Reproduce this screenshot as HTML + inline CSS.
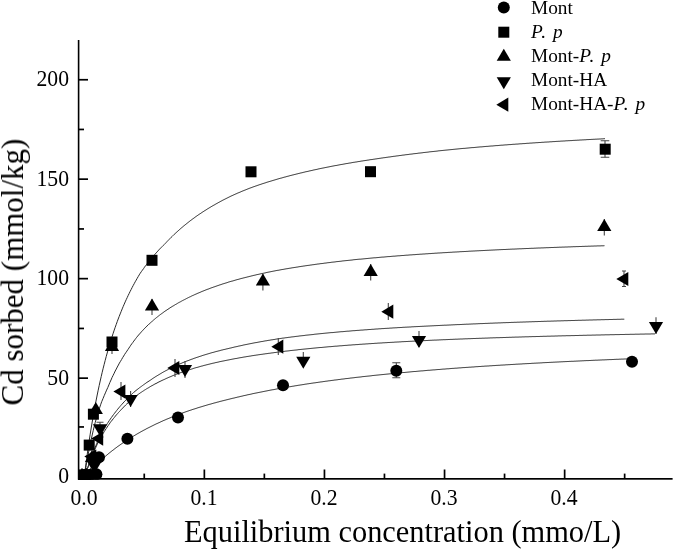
<!DOCTYPE html>
<html><head><meta charset="utf-8"><title>Cd sorption isotherms</title>
<style>
html,body{margin:0;padding:0;background:#fff;}
body{width:675px;height:550px;position:relative;overflow:hidden;font-family:"Liberation Serif",serif;color:#000;}
.t{position:absolute;white-space:nowrap;line-height:1;will-change:transform;}
.yl{font-size:21.7px;width:60px;text-align:right;left:9.4px;transform:translateY(0.9px) scaleY(1.05);}
.xl{transform:translateY(0.6px) scaleY(1.05);font-size:21.7px;width:60px;text-align:center;}
.lg{font-size:19.3px;left:531.2px;}
.lg i{letter-spacing:1px;}
.ttl{font-size:30px;}
</style></head><body>
<svg width="675" height="550" viewBox="0 0 675 550" style="position:absolute;left:0;top:0">
<rect width="675" height="550" fill="#fff"/>
<defs><clipPath id="pc"><rect x="78" y="30" width="597" height="449.7"/></clipPath></defs>
<g clip-path="url(#pc)">
<polyline points="84.2,477.5 85.2,469.5 86.2,461.9 87.2,454.5 88.2,447.5 89.2,440.7 90.2,434.2 91.2,428.0 92.2,422.0 93.2,416.2 94.2,410.6 95.2,405.2 96.2,400.0 97.2,395.0 98.2,390.2 99.2,385.5 100.2,381.0 101.2,376.6 102.2,372.3 103.2,368.2 104.2,364.3 105.2,360.4 106.2,356.6 107.2,353.0 108.2,349.5 109.2,346.0 110.2,342.7 111.2,339.5 112.2,336.3 113.2,333.2 114.2,330.2 115.2,327.3 116.2,324.5 117.2,321.7 118.2,319.0 119.2,316.4 120.2,313.9 121.2,311.4 122.2,308.9 123.2,306.5 124.2,304.2 125.2,301.9 126.2,299.7 127.2,297.6 128.2,295.4 129.2,293.4 130.2,291.3 131.2,289.4 132.2,287.4 133.2,285.5 134.2,283.7 135.2,281.8 136.2,280.1 137.2,278.3 138.2,276.6 139.2,274.9 140.2,273.3 141.3,271.7 142.4,270.2 143.5,268.7 144.5,267.2 145.6,265.7 146.7,264.3 147.8,262.9 148.9,261.6 150.0,260.2 151.0,258.9 152.1,257.6 153.2,256.4 154.1,255.3 155.0,254.2 156.0,253.1 156.9,252.1 157.8,251.1 158.7,250.1 159.6,249.1 160.6,248.1 161.5,247.2 162.4,246.3 163.3,245.4 164.3,244.5 165.2,243.6 166.2,242.5 167.2,241.4 168.2,240.4 169.2,239.4 170.2,238.3 171.2,237.3 172.2,236.4 173.2,235.4 174.2,234.4 175.2,233.5 176.2,232.6 177.2,231.7 178.2,230.8 179.2,229.9 180.2,229.0 181.2,228.1 182.2,227.3 183.2,226.4 184.2,225.6 185.2,224.8 186.2,224.0 187.2,223.2 188.2,222.4 189.2,221.6 190.2,220.8 191.2,220.1 192.2,219.3 193.2,218.6 194.2,217.9 195.2,217.1 196.2,216.4 197.2,215.7 198.2,215.0 199.2,214.3 200.2,213.7 201.2,213.0 202.2,212.3 203.2,211.7 204.2,211.0 205.2,210.4 206.2,209.8 207.2,209.1 208.2,208.5 209.2,207.9 210.2,207.3 211.2,206.7 212.2,206.1 213.2,205.5 214.2,205.0 215.2,204.4 216.2,203.8 217.2,203.3 218.2,202.7 219.2,202.2 220.2,201.6 221.2,201.1 222.2,200.5 223.2,200.0 224.2,199.5 225.2,199.0 226.2,198.5 227.2,198.0 228.2,197.5 229.2,197.0 230.2,196.5 231.2,196.0 232.2,195.6 233.2,195.1 234.2,194.7 235.2,194.2 236.2,193.8 237.2,193.3 238.2,192.9 239.2,192.5 240.2,192.1 241.2,191.6 242.2,191.2 243.2,190.8 244.2,190.4 245.2,190.0 246.2,189.6 247.2,189.2 248.2,188.8 249.2,188.4 250.2,188.0 251.2,187.7 252.2,187.3 253.2,186.9 254.2,186.6 255.2,186.2 256.2,185.9 257.2,185.5 258.2,185.2 259.2,184.8 260.2,184.5 261.2,184.2 262.2,183.8 263.2,183.5 264.2,183.2 265.2,182.9 266.2,182.5 267.2,182.2 268.2,181.9 269.2,181.6 270.2,181.3 271.2,181.0 272.2,180.7 273.2,180.4 274.2,180.1 275.2,179.8 276.2,179.5 277.2,179.2 278.2,178.9 279.2,178.6 280.2,178.3 281.2,178.1 282.2,177.8 283.2,177.5 284.2,177.2 285.2,177.0 286.2,176.7 287.2,176.4 288.2,176.2 289.2,175.9 290.2,175.6 291.2,175.4 292.2,175.1 293.2,174.9 294.2,174.6 295.2,174.4 296.2,174.1 297.2,173.9 298.2,173.6 299.2,173.4 300.2,173.1 301.2,172.9 302.2,172.7 303.2,172.4 304.2,172.2 305.2,171.9 306.2,171.7 307.2,171.5 308.2,171.3 309.2,171.0 310.2,170.8 311.2,170.6 312.2,170.4 313.2,170.1 314.2,169.9 315.2,169.7 316.2,169.5 317.2,169.3 318.2,169.0 319.2,168.8 320.2,168.6 321.2,168.4 322.2,168.2 323.2,168.0 324.2,167.8 325.2,167.6 326.2,167.4 327.2,167.2 328.2,167.0 329.2,166.8 330.2,166.6 331.2,166.4 332.2,166.2 333.2,166.0 334.2,165.8 335.2,165.6 336.2,165.5 337.2,165.3 338.2,165.1 339.2,164.9 340.2,164.7 341.2,164.5 342.2,164.4 343.2,164.2 344.2,164.0 345.2,163.8 346.2,163.6 347.2,163.5 348.2,163.3 349.2,163.1 350.2,163.0 351.2,162.8 352.2,162.6 353.2,162.4 354.2,162.3 355.2,162.1 356.2,162.0 357.2,161.8 358.2,161.6 359.2,161.5 360.2,161.3 361.2,161.1 362.2,161.0 363.2,160.8 364.2,160.7 365.2,160.5 366.2,160.4 367.2,160.2 368.2,160.1 369.2,159.9 370.2,159.7 371.2,159.6 372.2,159.5 373.2,159.3 374.2,159.2 375.2,159.0 376.2,158.9 377.2,158.7 378.2,158.6 379.2,158.4 380.2,158.3 381.2,158.1 382.2,158.0 383.2,157.8 384.2,157.7 385.2,157.6 386.2,157.4 387.2,157.3 388.2,157.1 389.2,157.0 390.2,156.9 391.2,156.7 392.2,156.6 393.2,156.4 394.2,156.3 395.2,156.2 396.2,156.0 397.2,155.9 398.2,155.8 399.2,155.6 400.2,155.5 401.2,155.4 402.2,155.2 403.2,155.1 404.2,155.0 405.2,154.8 406.2,154.7 407.2,154.6 408.2,154.5 409.2,154.3 410.2,154.2 411.2,154.1 412.2,154.0 413.2,153.8 414.2,153.7 415.2,153.6 416.2,153.5 417.2,153.4 418.2,153.2 419.2,153.1 420.2,153.0 421.2,152.9 422.2,152.8 423.2,152.6 424.2,152.5 425.2,152.4 426.2,152.3 427.2,152.2 428.2,152.1 429.2,151.9 430.2,151.8 431.2,151.7 432.2,151.6 433.2,151.5 434.2,151.4 435.2,151.3 436.2,151.2 437.2,151.1 438.2,150.9 439.2,150.8 440.2,150.7 441.2,150.6 442.2,150.5 443.2,150.4 444.2,150.3 445.2,150.2 446.2,150.1 447.2,150.0 448.2,149.9 449.2,149.8 450.2,149.7 451.2,149.6 452.2,149.5 453.2,149.4 454.2,149.3 455.2,149.2 456.2,149.1 457.2,149.0 458.2,148.9 459.2,148.8 460.2,148.7 461.2,148.6 462.2,148.5 463.2,148.4 464.2,148.4 465.2,148.3 466.2,148.2 467.2,148.1 468.2,148.0 469.2,147.9 470.2,147.8 471.2,147.7 472.2,147.6 473.2,147.6 474.2,147.5 475.2,147.4 476.2,147.3 477.2,147.2 478.2,147.1 479.2,147.0 480.2,146.9 481.2,146.9 482.2,146.8 483.2,146.7 484.2,146.6 485.2,146.5 486.2,146.4 487.2,146.4 488.2,146.3 489.2,146.2 490.2,146.1 491.2,146.0 492.2,146.0 493.2,145.9 494.2,145.8 495.2,145.7 496.2,145.6 497.2,145.6 498.2,145.5 499.2,145.4 500.2,145.3 501.2,145.2 502.2,145.2 503.2,145.1 504.2,145.0 505.2,144.9 506.2,144.9 507.2,144.8 508.2,144.7 509.2,144.6 510.2,144.6 511.2,144.5 512.2,144.4 513.2,144.3 514.2,144.3 515.2,144.2 516.2,144.1 517.2,144.1 518.2,144.0 519.2,143.9 520.2,143.8 521.2,143.8 522.2,143.7 523.2,143.6 524.2,143.6 525.2,143.5 526.2,143.4 527.2,143.3 528.2,143.3 529.2,143.2 530.2,143.1 531.2,143.1 532.2,143.0 533.2,142.9 534.2,142.9 535.2,142.8 536.2,142.7 537.2,142.7 538.2,142.6 539.2,142.5 540.2,142.5 541.2,142.4 542.2,142.3 543.2,142.3 544.2,142.2 545.2,142.1 546.2,142.1 547.2,142.0 548.2,142.0 549.2,141.9 550.2,141.8 551.2,141.8 552.2,141.7 553.2,141.6 554.2,141.6 555.2,141.5 556.2,141.4 557.2,141.4 558.2,141.3 559.2,141.3 560.2,141.2 561.2,141.1 562.2,141.1 563.2,141.0 564.2,141.0 565.2,140.9 566.2,140.8 567.2,140.8 568.2,140.7 569.2,140.7 570.2,140.6 571.2,140.6 572.2,140.5 573.2,140.4 574.2,140.4 575.2,140.3 576.2,140.3 577.2,140.2 578.2,140.2 579.2,140.1 580.2,140.0 581.2,140.0 582.2,139.9 583.2,139.9 584.2,139.8 585.2,139.8 586.2,139.7 587.2,139.6 588.2,139.6 589.2,139.5 590.2,139.5 591.2,139.4 592.2,139.4 593.2,139.3 594.2,139.3 595.2,139.2 596.2,139.2 597.2,139.1 598.2,139.1 599.2,139.0 600.2,139.0 601.2,138.9 602.2,138.9 603.2,138.8 604.2,138.7 605.0,138.7" fill="none" stroke="#2a2a2a" stroke-width="1"/>
<polyline points="84.2,477.5 85.2,471.3 86.2,465.3 87.2,459.6 88.2,454.3 89.2,449.1 90.2,444.2 91.2,439.5 92.2,435.0 93.2,430.7 94.2,426.5 95.2,422.5 96.3,418.7 97.4,415.1 98.5,411.5 99.5,408.1 100.6,404.8 101.7,401.7 103.0,398.6 104.2,395.7 105.4,392.9 106.6,390.1 107.8,387.5 108.9,384.9 109.9,382.4 111.0,380.0 112.0,377.6 113.1,375.4 114.2,373.2 115.2,371.0 116.3,369.0 117.3,367.0 118.4,365.0 119.4,363.1 120.5,361.3 121.6,359.5 122.6,357.7 123.7,356.0 124.7,354.3 125.8,352.7 126.9,351.1 127.9,349.6 128.9,348.1 129.9,346.6 130.8,345.2 131.8,343.8 132.8,342.5 133.8,341.1 134.8,339.8 135.7,338.6 136.7,337.3 137.7,336.1 138.6,335.0 139.6,333.9 140.5,332.9 141.4,331.8 142.4,330.8 143.3,329.8 144.2,328.8 145.2,327.9 146.1,326.9 147.0,326.0 148.0,325.1 148.9,324.2 149.8,323.4 150.8,322.5 151.7,321.7 152.7,320.9 153.6,320.0 154.6,319.2 155.5,318.4 156.5,317.6 157.5,316.8 158.4,316.1 159.4,315.3 160.3,314.6 161.3,313.9 162.3,313.2 163.2,312.5 164.2,311.8 165.1,311.1 166.1,310.5 167.1,309.8 168.0,309.2 169.0,308.6 169.9,307.9 170.9,307.3 171.9,306.7 172.8,306.1 173.8,305.6 174.7,305.0 175.7,304.4 176.7,303.9 177.6,303.3 178.6,302.7 179.6,302.2 180.6,301.7 181.6,301.1 182.5,300.6 183.5,300.1 184.5,299.6 185.5,299.1 186.4,298.6 187.4,298.1 188.4,297.6 189.4,297.1 190.4,296.7 191.3,296.2 192.3,295.7 193.3,295.3 194.3,294.8 195.2,294.4 196.2,294.0 197.2,293.5 198.2,293.1 199.2,292.7 200.2,292.3 201.2,291.8 202.2,291.4 203.2,291.0 204.2,290.6 205.2,290.2 206.2,289.8 207.2,289.4 208.2,289.1 209.2,288.7 210.2,288.3 211.2,287.9 212.2,287.6 213.2,287.2 214.2,286.9 215.2,286.5 216.2,286.2 217.2,285.8 218.2,285.5 219.2,285.1 220.2,284.8 221.2,284.5 222.2,284.1 223.2,283.8 224.2,283.5 225.2,283.2 226.2,282.9 227.2,282.6 228.2,282.2 229.2,281.9 230.2,281.6 231.2,281.3 232.2,281.1 233.2,280.8 234.2,280.5 235.2,280.2 236.2,279.9 237.2,279.6 238.2,279.4 239.2,279.1 240.2,278.8 241.2,278.5 242.2,278.3 243.2,278.0 244.2,277.8 245.2,277.5 246.2,277.3 247.2,277.0 248.2,276.8 249.2,276.5 250.2,276.3 251.2,276.0 252.2,275.8 253.2,275.5 254.2,275.3 255.2,275.1 256.2,274.8 257.2,274.6 258.2,274.4 259.2,274.2 260.2,273.9 261.2,273.7 262.2,273.5 263.2,273.3 264.2,273.1 265.2,272.9 266.2,272.6 267.2,272.4 268.2,272.2 269.2,272.0 270.2,271.8 271.2,271.6 272.2,271.4 273.2,271.2 274.2,271.0 275.2,270.8 276.2,270.6 277.2,270.4 278.2,270.3 279.2,270.1 280.2,269.9 281.2,269.7 282.2,269.5 283.2,269.4 284.2,269.2 285.2,269.0 286.2,268.8 287.2,268.7 288.2,268.5 289.2,268.3 290.2,268.2 291.2,268.0 292.2,267.8 293.2,267.7 294.2,267.5 295.2,267.4 296.2,267.2 297.2,267.1 298.2,266.9 299.2,266.7 300.2,266.6 301.2,266.4 302.2,266.3 303.2,266.1 304.2,266.0 305.2,265.8 306.2,265.7 307.2,265.5 308.2,265.4 309.2,265.3 310.2,265.1 311.2,265.0 312.2,264.8 313.2,264.7 314.2,264.6 315.2,264.4 316.2,264.3 317.2,264.1 318.2,264.0 319.2,263.9 320.2,263.7 321.2,263.6 322.2,263.5 323.2,263.4 324.2,263.2 325.2,263.1 326.2,263.0 327.2,262.8 328.2,262.7 329.2,262.6 330.2,262.5 331.2,262.3 332.2,262.2 333.2,262.1 334.2,262.0 335.2,261.9 336.2,261.7 337.2,261.6 338.2,261.5 339.2,261.4 340.2,261.3 341.2,261.2 342.2,261.0 343.2,260.9 344.2,260.8 345.2,260.7 346.2,260.6 347.2,260.5 348.2,260.4 349.2,260.3 350.2,260.2 351.2,260.1 352.2,260.0 353.2,259.8 354.2,259.7 355.2,259.6 356.2,259.5 357.2,259.4 358.2,259.3 359.2,259.2 360.2,259.2 361.2,259.1 362.2,259.0 363.2,258.9 364.2,258.8 365.2,258.7 366.2,258.6 367.2,258.5 368.2,258.4 369.2,258.3 370.2,258.2 371.2,258.1 372.2,258.0 373.2,257.9 374.2,257.8 375.2,257.8 376.2,257.7 377.2,257.6 378.2,257.5 379.2,257.4 380.2,257.3 381.2,257.2 382.2,257.1 383.2,257.1 384.2,257.0 385.2,256.9 386.2,256.8 387.2,256.7 388.2,256.6 389.2,256.6 390.2,256.5 391.2,256.4 392.2,256.3 393.2,256.2 394.2,256.2 395.2,256.1 396.2,256.0 397.2,255.9 398.2,255.8 399.2,255.8 400.2,255.7 401.2,255.6 402.2,255.5 403.2,255.5 404.2,255.4 405.2,255.3 406.2,255.2 407.2,255.2 408.2,255.1 409.2,255.0 410.2,254.9 411.2,254.9 412.2,254.8 413.2,254.7 414.2,254.7 415.2,254.6 416.2,254.5 417.2,254.4 418.2,254.4 419.2,254.3 420.2,254.2 421.2,254.2 422.2,254.1 423.2,254.0 424.2,254.0 425.2,253.9 426.2,253.8 427.2,253.8 428.2,253.7 429.2,253.6 430.2,253.6 431.2,253.5 432.2,253.4 433.2,253.4 434.2,253.3 435.2,253.2 436.2,253.2 437.2,253.1 438.2,253.0 439.2,253.0 440.2,252.9 441.2,252.9 442.2,252.8 443.2,252.7 444.2,252.7 445.2,252.6 446.2,252.6 447.2,252.5 448.2,252.4 449.2,252.4 450.2,252.3 451.2,252.3 452.2,252.2 453.2,252.1 454.2,252.1 455.2,252.0 456.2,252.0 457.2,251.9 458.2,251.9 459.2,251.8 460.2,251.7 461.2,251.7 462.2,251.6 463.2,251.6 464.2,251.5 465.2,251.5 466.2,251.4 467.2,251.4 468.2,251.3 469.2,251.2 470.2,251.2 471.2,251.1 472.2,251.1 473.2,251.0 474.2,251.0 475.2,250.9 476.2,250.9 477.2,250.8 478.2,250.8 479.2,250.7 480.2,250.7 481.2,250.6 482.2,250.6 483.2,250.5 484.2,250.5 485.2,250.4 486.2,250.4 487.2,250.3 488.2,250.3 489.2,250.2 490.2,250.2 491.2,250.1 492.2,250.1 493.2,250.0 494.2,250.0 495.2,249.9 496.2,249.9 497.2,249.8 498.2,249.8 499.2,249.7 500.2,249.7 501.2,249.6 502.2,249.6 503.2,249.5 504.2,249.5 505.2,249.5 506.2,249.4 507.2,249.4 508.2,249.3 509.2,249.3 510.2,249.2 511.2,249.2 512.2,249.1 513.2,249.1 514.2,249.1 515.2,249.0 516.2,249.0 517.2,248.9 518.2,248.9 519.2,248.8 520.2,248.8 521.2,248.8 522.2,248.7 523.2,248.7 524.2,248.6 525.2,248.6 526.2,248.5 527.2,248.5 528.2,248.5 529.2,248.4 530.2,248.4 531.2,248.3 532.2,248.3 533.2,248.3 534.2,248.2 535.2,248.2 536.2,248.1 537.2,248.1 538.2,248.0 539.2,248.0 540.2,248.0 541.2,247.9 542.2,247.9 543.2,247.9 544.2,247.8 545.2,247.8 546.2,247.7 547.2,247.7 548.2,247.7 549.2,247.6 550.2,247.6 551.2,247.5 552.2,247.5 553.2,247.5 554.2,247.4 555.2,247.4 556.2,247.4 557.2,247.3 558.2,247.3 559.2,247.2 560.2,247.2 561.2,247.2 562.2,247.1 563.2,247.1 564.2,247.1 565.2,247.0 566.2,247.0 567.2,247.0 568.2,246.9 569.2,246.9 570.2,246.9 571.2,246.8 572.2,246.8 573.2,246.7 574.2,246.7 575.2,246.7 576.2,246.6 577.2,246.6 578.2,246.6 579.2,246.5 580.2,246.5 581.2,246.5 582.2,246.4 583.2,246.4 584.2,246.4 585.2,246.3 586.2,246.3 587.2,246.3 588.2,246.2 589.2,246.2 590.2,246.2 591.2,246.1 592.2,246.1 593.2,246.1 594.2,246.0 595.2,246.0 596.2,246.0 597.2,245.9 598.2,245.9 599.2,245.9 600.2,245.9 601.2,245.8 602.2,245.8 603.2,245.8 604.2,245.7 604.5,245.7" fill="none" stroke="#2a2a2a" stroke-width="1"/>
<polyline points="84.2,477.5 85.0,475.6 85.8,473.4 86.6,471.0 87.4,468.6 88.2,466.2 89.0,463.9 89.9,461.5 90.7,459.1 91.5,456.8 92.4,454.5 93.2,452.3 94.1,450.1 94.9,447.9 95.8,445.8 96.6,443.7 97.5,441.7 98.5,439.7 99.5,437.8 100.4,435.9 101.4,434.0 102.4,432.2 103.4,430.4 104.4,428.6 105.4,426.9 106.3,425.3 107.3,423.6 108.3,422.1 109.3,420.5 110.4,419.0 111.4,417.5 112.5,416.0 113.5,414.6 114.6,413.2 115.6,411.9 116.7,410.5 117.7,409.2 118.8,407.9 119.8,406.7 120.9,405.4 122.0,404.2 123.1,403.0 124.1,401.9 125.2,400.7 126.3,399.6 127.4,398.5 128.4,397.4 129.5,396.4 130.6,395.3 131.7,394.3 132.8,393.3 133.8,392.3 134.9,391.4 136.0,390.5 137.1,389.6 138.2,388.8 139.3,387.9 140.4,387.1 141.5,386.3 142.6,385.5 143.7,384.7 144.8,383.9 145.8,383.2 146.9,382.4 148.0,381.7 149.1,381.0 150.2,380.3 151.2,379.6 152.2,378.9 153.2,378.2 154.2,377.6 155.2,376.9 156.2,376.3 157.2,375.7 158.2,375.1 159.2,374.5 160.2,373.9 161.2,373.3 162.2,372.7 163.2,372.1 164.2,371.6 165.2,371.0 166.2,370.5 167.2,370.0 168.2,369.4 169.2,368.9 170.2,368.4 171.2,367.9 172.2,367.4 173.2,367.0 174.2,366.5 175.2,366.0 176.2,365.6 177.2,365.1 178.2,364.7 179.2,364.2 180.2,363.8 181.2,363.4 182.2,362.9 183.2,362.5 184.2,362.1 185.2,361.7 186.2,361.3 187.2,360.9 188.2,360.6 189.2,360.2 190.2,359.8 191.2,359.4 192.2,359.1 193.2,358.7 194.2,358.3 195.2,358.0 196.2,357.6 197.2,357.3 198.2,357.0 199.2,356.6 200.2,356.3 201.2,356.0 202.2,355.6 203.2,355.3 204.2,355.0 205.2,354.7 206.2,354.4 207.2,354.1 208.2,353.8 209.2,353.5 210.2,353.2 211.2,352.9 212.2,352.6 213.2,352.4 214.2,352.1 215.2,351.8 216.2,351.5 217.2,351.3 218.2,351.0 219.2,350.8 220.2,350.5 221.2,350.2 222.2,350.0 223.2,349.7 224.2,349.5 225.2,349.3 226.2,349.0 227.2,348.8 228.2,348.6 229.2,348.3 230.2,348.1 231.2,347.9 232.2,347.6 233.2,347.4 234.2,347.1 235.2,346.9 236.2,346.7 237.2,346.5 238.2,346.2 239.2,346.0 240.2,345.8 241.2,345.6 242.2,345.4 243.2,345.1 244.2,344.9 245.2,344.7 246.2,344.5 247.2,344.3 248.2,344.1 249.2,343.9 250.2,343.7 251.2,343.5 252.2,343.3 253.2,343.1 254.2,342.9 255.2,342.7 256.2,342.6 257.2,342.4 258.2,342.2 259.2,342.0 260.2,341.8 261.2,341.6 262.2,341.5 263.2,341.3 264.2,341.1 265.2,340.9 266.2,340.8 267.2,340.6 268.2,340.4 269.2,340.3 270.2,340.1 271.2,339.9 272.2,339.8 273.2,339.6 274.2,339.5 275.2,339.3 276.2,339.1 277.2,339.0 278.2,338.8 279.2,338.7 280.2,338.5 281.2,338.4 282.2,338.2 283.2,338.1 284.2,338.0 285.2,337.8 286.2,337.7 287.2,337.6 288.2,337.4 289.2,337.3 290.2,337.2 291.2,337.0 292.2,336.9 293.2,336.8 294.2,336.7 295.2,336.5 296.2,336.4 297.2,336.3 298.2,336.2 299.2,336.0 300.2,335.9 301.2,335.8 302.2,335.7 303.2,335.6 304.2,335.5 305.2,335.3 306.2,335.2 307.2,335.1 308.2,335.0 309.2,334.9 310.2,334.8 311.2,334.7 312.2,334.6 313.2,334.5 314.2,334.3 315.2,334.2 316.2,334.1 317.2,334.0 318.2,333.9 319.2,333.8 320.2,333.7 321.2,333.6 322.2,333.5 323.2,333.4 324.2,333.3 325.2,333.2 326.2,333.1 327.2,333.0 328.2,332.9 329.2,332.8 330.2,332.7 331.2,332.6 332.2,332.6 333.2,332.5 334.2,332.4 335.2,332.3 336.2,332.2 337.2,332.1 338.2,332.0 339.2,331.9 340.2,331.8 341.2,331.7 342.2,331.7 343.2,331.6 344.2,331.5 345.2,331.4 346.2,331.3 347.2,331.2 348.2,331.2 349.2,331.1 350.2,331.0 351.2,330.9 352.2,330.8 353.2,330.7 354.2,330.7 355.2,330.6 356.2,330.5 357.2,330.4 358.2,330.4 359.2,330.3 360.2,330.2 361.2,330.1 362.2,330.1 363.2,330.0 364.2,329.9 365.2,329.8 366.2,329.8 367.2,329.7 368.2,329.6 369.2,329.5 370.2,329.5 371.2,329.4 372.2,329.3 373.2,329.3 374.2,329.2 375.2,329.1 376.2,329.0 377.2,329.0 378.2,328.9 379.2,328.8 380.2,328.8 381.2,328.7 382.2,328.6 383.2,328.6 384.2,328.5 385.2,328.4 386.2,328.4 387.2,328.3 388.2,328.3 389.2,328.2 390.2,328.1 391.2,328.1 392.2,328.0 393.2,327.9 394.2,327.9 395.2,327.8 396.2,327.8 397.2,327.7 398.2,327.6 399.2,327.6 400.2,327.5 401.2,327.5 402.2,327.4 403.2,327.3 404.2,327.3 405.2,327.2 406.2,327.2 407.2,327.1 408.2,327.1 409.2,327.0 410.2,327.0 411.2,326.9 412.2,326.8 413.2,326.8 414.2,326.7 415.2,326.7 416.2,326.6 417.2,326.6 418.2,326.5 419.2,326.5 420.2,326.4 421.2,326.4 422.2,326.3 423.2,326.3 424.2,326.2 425.2,326.2 426.2,326.1 427.2,326.1 428.2,326.0 429.2,326.0 430.2,325.9 431.2,325.9 432.2,325.8 433.2,325.8 434.2,325.7 435.2,325.7 436.2,325.6 437.2,325.6 438.2,325.5 439.2,325.5 440.2,325.4 441.2,325.4 442.2,325.3 443.2,325.3 444.2,325.2 445.2,325.2 446.2,325.2 447.2,325.1 448.2,325.1 449.2,325.0 450.2,325.0 451.2,324.9 452.2,324.9 453.2,324.8 454.2,324.8 455.2,324.7 456.2,324.7 457.2,324.6 458.2,324.6 459.2,324.6 460.2,324.5 461.2,324.5 462.2,324.4 463.2,324.4 464.2,324.3 465.2,324.3 466.2,324.2 467.2,324.2 468.2,324.2 469.2,324.1 470.2,324.1 471.2,324.0 472.2,324.0 473.2,323.9 474.2,323.9 475.2,323.9 476.2,323.8 477.2,323.8 478.2,323.7 479.2,323.7 480.2,323.6 481.2,323.6 482.2,323.6 483.2,323.5 484.2,323.5 485.2,323.4 486.2,323.4 487.2,323.4 488.2,323.3 489.2,323.3 490.2,323.2 491.2,323.2 492.2,323.2 493.2,323.1 494.2,323.1 495.2,323.0 496.2,323.0 497.2,323.0 498.2,322.9 499.2,322.9 500.2,322.9 501.2,322.8 502.2,322.8 503.2,322.7 504.2,322.7 505.2,322.7 506.2,322.6 507.2,322.6 508.2,322.6 509.2,322.5 510.2,322.5 511.2,322.4 512.2,322.4 513.2,322.4 514.2,322.3 515.2,322.3 516.2,322.3 517.2,322.2 518.2,322.2 519.2,322.2 520.2,322.1 521.2,322.1 522.2,322.1 523.2,322.0 524.2,322.0 525.2,322.0 526.2,321.9 527.2,321.9 528.2,321.9 529.2,321.8 530.2,321.8 531.2,321.8 532.2,321.7 533.2,321.7 534.2,321.7 535.2,321.6 536.2,321.6 537.2,321.6 538.2,321.5 539.2,321.5 540.2,321.5 541.2,321.4 542.2,321.4 543.2,321.4 544.2,321.3 545.2,321.3 546.2,321.3 547.2,321.2 548.2,321.2 549.2,321.2 550.2,321.2 551.2,321.1 552.2,321.1 553.2,321.1 554.2,321.0 555.2,321.0 556.2,321.0 557.2,320.9 558.2,320.9 559.2,320.9 560.2,320.9 561.2,320.8 562.2,320.8 563.2,320.8 564.2,320.7 565.2,320.7 566.2,320.7 567.2,320.7 568.2,320.6 569.2,320.6 570.2,320.6 571.2,320.5 572.2,320.5 573.2,320.5 574.2,320.5 575.2,320.4 576.2,320.4 577.2,320.4 578.2,320.3 579.2,320.3 580.2,320.3 581.2,320.3 582.2,320.2 583.2,320.2 584.2,320.2 585.2,320.2 586.2,320.1 587.2,320.1 588.2,320.1 589.2,320.0 590.2,320.0 591.2,320.0 592.2,320.0 593.2,319.9 594.2,319.9 595.2,319.9 596.2,319.9 597.2,319.8 598.2,319.8 599.2,319.8 600.2,319.8 601.2,319.7 602.2,319.7 603.2,319.7 604.2,319.7 605.2,319.6 606.2,319.6 607.2,319.6 608.2,319.6 609.2,319.5 610.2,319.5 611.2,319.5 612.2,319.5 613.2,319.4 614.2,319.4 615.2,319.4 616.2,319.4 617.2,319.3 618.2,319.3 619.2,319.3 620.2,319.3 621.2,319.2 622.2,319.2 623.2,319.2 624.2,319.2 624.3,319.2" fill="none" stroke="#2a2a2a" stroke-width="1"/>
<polyline points="84.2,477.5 85.0,475.4 85.9,473.1 86.7,470.7 87.6,468.3 88.4,465.9 89.3,463.5 90.1,461.2 91.0,458.9 91.9,456.6 92.8,454.4 93.7,452.3 94.6,450.2 95.5,448.1 96.4,446.1 97.3,444.1 98.2,442.2 99.2,440.4 100.2,438.6 101.2,436.8 102.2,435.1 103.2,433.4 104.2,431.7 105.2,430.1 106.2,428.6 107.2,427.0 108.2,425.6 109.2,424.1 110.2,422.7 111.2,421.3 112.3,420.0 113.3,418.7 114.4,417.4 115.4,416.1 116.4,414.9 117.5,413.7 118.5,412.5 119.6,411.4 120.6,410.3 121.6,409.2 122.7,408.1 123.7,407.0 124.7,406.0 125.7,405.0 126.8,404.0 127.8,403.0 128.8,402.0 129.9,401.1 130.9,400.2 131.9,399.3 132.9,398.4 134.0,397.6 135.0,396.7 136.1,396.0 137.1,395.2 138.2,394.4 139.2,393.7 140.3,392.9 141.4,392.2 142.4,391.5 143.5,390.8 144.5,390.1 145.6,389.5 146.6,388.8 147.7,388.2 148.8,387.6 149.8,386.9 150.8,386.3 151.9,385.7 152.9,385.2 153.9,384.6 154.9,384.0 156.0,383.5 157.0,383.0 158.0,382.4 159.0,381.9 160.1,381.4 161.1,380.9 162.1,380.4 163.2,379.9 164.2,379.5 165.2,379.0 166.2,378.5 167.2,378.1 168.2,377.6 169.2,377.2 170.2,376.8 171.2,376.4 172.2,375.9 173.2,375.5 174.2,375.1 175.2,374.7 176.2,374.3 177.2,374.0 178.2,373.6 179.2,373.2 180.2,372.8 181.2,372.5 182.2,372.1 183.2,371.8 184.2,371.4 185.2,371.1 186.2,370.8 187.2,370.4 188.2,370.1 189.2,369.8 190.2,369.5 191.2,369.2 192.2,368.9 193.2,368.5 194.2,368.2 195.2,367.9 196.2,367.6 197.2,367.4 198.2,367.1 199.2,366.8 200.2,366.5 201.2,366.2 202.2,366.0 203.2,365.7 204.2,365.4 205.2,365.2 206.2,364.9 207.2,364.7 208.2,364.4 209.2,364.2 210.2,363.9 211.2,363.7 212.2,363.4 213.2,363.2 214.2,363.0 215.2,362.7 216.2,362.5 217.2,362.3 218.2,362.1 219.2,361.8 220.2,361.6 221.2,361.4 222.2,361.2 223.2,361.0 224.2,360.8 225.2,360.6 226.2,360.4 227.2,360.2 228.2,360.0 229.2,359.8 230.2,359.6 231.2,359.4 232.2,359.2 233.2,359.0 234.2,358.8 235.2,358.6 236.2,358.5 237.2,358.3 238.2,358.1 239.2,357.9 240.2,357.7 241.2,357.6 242.2,357.4 243.2,357.2 244.2,357.0 245.2,356.9 246.2,356.7 247.2,356.5 248.2,356.4 249.2,356.2 250.2,356.1 251.2,355.9 252.2,355.7 253.2,355.6 254.2,355.4 255.2,355.3 256.2,355.1 257.2,355.0 258.2,354.8 259.2,354.7 260.2,354.5 261.2,354.4 262.2,354.3 263.2,354.1 264.2,354.0 265.2,353.8 266.2,353.7 267.2,353.6 268.2,353.4 269.2,353.3 270.2,353.2 271.2,353.0 272.2,352.9 273.2,352.8 274.2,352.6 275.2,352.5 276.2,352.4 277.2,352.2 278.2,352.1 279.2,352.0 280.2,351.9 281.2,351.7 282.2,351.6 283.2,351.5 284.2,351.4 285.2,351.2 286.2,351.1 287.2,351.0 288.2,350.9 289.2,350.8 290.2,350.6 291.2,350.5 292.2,350.4 293.2,350.3 294.2,350.2 295.2,350.1 296.2,350.0 297.2,349.9 298.2,349.7 299.2,349.6 300.2,349.5 301.2,349.4 302.2,349.3 303.2,349.2 304.2,349.1 305.2,349.0 306.2,348.9 307.2,348.8 308.2,348.7 309.2,348.6 310.2,348.5 311.2,348.4 312.2,348.3 313.2,348.2 314.2,348.1 315.2,348.0 316.2,347.9 317.2,347.8 318.2,347.7 319.2,347.6 320.2,347.5 321.2,347.5 322.2,347.4 323.2,347.3 324.2,347.2 325.2,347.1 326.2,347.0 327.2,346.9 328.2,346.8 329.2,346.7 330.2,346.7 331.2,346.6 332.2,346.5 333.2,346.4 334.2,346.3 335.2,346.2 336.2,346.2 337.2,346.1 338.2,346.0 339.2,345.9 340.2,345.8 341.2,345.8 342.2,345.7 343.2,345.6 344.2,345.5 345.2,345.4 346.2,345.4 347.2,345.3 348.2,345.2 349.2,345.1 350.2,345.1 351.2,345.0 352.2,344.9 353.2,344.8 354.2,344.8 355.2,344.7 356.2,344.6 357.2,344.6 358.2,344.5 359.2,344.4 360.2,344.3 361.2,344.3 362.2,344.2 363.2,344.1 364.2,344.1 365.2,344.0 366.2,343.9 367.2,343.9 368.2,343.8 369.2,343.7 370.2,343.7 371.2,343.6 372.2,343.5 373.2,343.5 374.2,343.4 375.2,343.3 376.2,343.3 377.2,343.2 378.2,343.1 379.2,343.1 380.2,343.0 381.2,343.0 382.2,342.9 383.2,342.8 384.2,342.8 385.2,342.7 386.2,342.7 387.2,342.6 388.2,342.5 389.2,342.5 390.2,342.4 391.2,342.4 392.2,342.3 393.2,342.3 394.2,342.2 395.2,342.1 396.2,342.1 397.2,342.0 398.2,342.0 399.2,341.9 400.2,341.9 401.2,341.8 402.2,341.7 403.2,341.7 404.2,341.6 405.2,341.6 406.2,341.5 407.2,341.5 408.2,341.4 409.2,341.4 410.2,341.3 411.2,341.3 412.2,341.2 413.2,341.2 414.2,341.1 415.2,341.1 416.2,341.0 417.2,341.0 418.2,340.9 419.2,340.9 420.2,340.8 421.2,340.8 422.2,340.7 423.2,340.7 424.2,340.6 425.2,340.6 426.2,340.5 427.2,340.5 428.2,340.4 429.2,340.4 430.2,340.3 431.2,340.3 432.2,340.2 433.2,340.2 434.2,340.1 435.2,340.1 436.2,340.1 437.2,340.0 438.2,340.0 439.2,339.9 440.2,339.9 441.2,339.8 442.2,339.8 443.2,339.7 444.2,339.7 445.2,339.7 446.2,339.6 447.2,339.6 448.2,339.5 449.2,339.5 450.2,339.4 451.2,339.4 452.2,339.4 453.2,339.3 454.2,339.3 455.2,339.2 456.2,339.2 457.2,339.2 458.2,339.1 459.2,339.1 460.2,339.0 461.2,339.0 462.2,339.0 463.2,338.9 464.2,338.9 465.2,338.8 466.2,338.8 467.2,338.8 468.2,338.7 469.2,338.7 470.2,338.7 471.2,338.6 472.2,338.6 473.2,338.5 474.2,338.5 475.2,338.5 476.2,338.4 477.2,338.4 478.2,338.4 479.2,338.3 480.2,338.3 481.2,338.3 482.2,338.2 483.2,338.2 484.2,338.2 485.2,338.1 486.2,338.1 487.2,338.1 488.2,338.0 489.2,338.0 490.2,337.9 491.2,337.9 492.2,337.9 493.2,337.8 494.2,337.8 495.2,337.8 496.2,337.7 497.2,337.7 498.2,337.7 499.2,337.7 500.2,337.6 501.2,337.6 502.2,337.6 503.2,337.5 504.2,337.5 505.2,337.5 506.2,337.4 507.2,337.4 508.2,337.4 509.2,337.3 510.2,337.3 511.2,337.3 512.2,337.2 513.2,337.2 514.2,337.2 515.2,337.1 516.2,337.1 517.2,337.1 518.2,337.1 519.2,337.0 520.2,337.0 521.2,337.0 522.2,336.9 523.2,336.9 524.2,336.9 525.2,336.8 526.2,336.8 527.2,336.8 528.2,336.8 529.2,336.7 530.2,336.7 531.2,336.7 532.2,336.6 533.2,336.6 534.2,336.6 535.2,336.6 536.2,336.5 537.2,336.5 538.2,336.5 539.2,336.5 540.2,336.4 541.2,336.4 542.2,336.4 543.2,336.3 544.2,336.3 545.2,336.3 546.2,336.3 547.2,336.2 548.2,336.2 549.2,336.2 550.2,336.2 551.2,336.1 552.2,336.1 553.2,336.1 554.2,336.1 555.2,336.0 556.2,336.0 557.2,336.0 558.2,335.9 559.2,335.9 560.2,335.9 561.2,335.9 562.2,335.8 563.2,335.8 564.2,335.8 565.2,335.8 566.2,335.7 567.2,335.7 568.2,335.7 569.2,335.7 570.2,335.7 571.2,335.6 572.2,335.6 573.2,335.6 574.2,335.6 575.2,335.5 576.2,335.5 577.2,335.5 578.2,335.5 579.2,335.4 580.2,335.4 581.2,335.4 582.2,335.4 583.2,335.3 584.2,335.3 585.2,335.3 586.2,335.3 587.2,335.2 588.2,335.2 589.2,335.2 590.2,335.2 591.2,335.2 592.2,335.1 593.2,335.1 594.2,335.1 595.2,335.1 596.2,335.0 597.2,335.0 598.2,335.0 599.2,335.0 600.2,335.0 601.2,334.9 602.2,334.9 603.2,334.9 604.2,334.9 605.2,334.8 606.2,334.8 607.2,334.8 608.2,334.8 609.2,334.8 610.2,334.7 611.2,334.7 612.2,334.7 613.2,334.7 614.2,334.7 615.2,334.6 616.2,334.6 617.2,334.6 618.2,334.6 619.2,334.6 620.2,334.5 621.2,334.5 622.2,334.5 623.2,334.5 624.2,334.5 625.2,334.4 626.2,334.4 627.2,334.4 628.2,334.4 629.2,334.4 630.2,334.3 631.2,334.3 632.2,334.3 633.2,334.3 634.2,334.3 635.2,334.2 636.2,334.2 637.2,334.2 638.2,334.2 639.2,334.2 640.2,334.1 641.2,334.1 642.2,334.1 643.2,334.1 644.2,334.1 645.2,334.0 646.2,334.0 647.2,334.0 648.2,334.0 649.2,334.0 650.2,334.0 651.2,333.9 652.2,333.9 653.2,333.9 654.2,333.9 655.0,333.9" fill="none" stroke="#2a2a2a" stroke-width="1"/>
<polyline points="84.2,477.5 85.2,476.3 86.2,475.2 87.2,474.1 88.2,473.0 89.2,471.9 90.2,470.8 91.2,469.8 92.2,468.7 93.2,467.7 94.2,466.7 95.2,465.7 96.2,464.7 97.2,463.7 98.2,462.8 99.2,461.8 100.2,460.9 101.2,460.0 102.2,459.1 103.2,458.2 104.2,457.3 105.2,456.5 106.2,455.6 107.2,454.8 108.2,453.9 109.2,453.1 110.2,452.3 111.2,451.5 112.2,450.7 113.2,450.0 114.2,449.2 115.2,448.4 116.2,447.7 117.2,446.9 118.2,446.2 119.2,445.5 120.2,444.8 121.2,444.1 122.2,443.4 123.2,442.7 124.2,442.0 125.2,441.4 126.2,440.7 127.2,440.0 128.2,439.4 129.2,438.8 130.2,438.1 131.2,437.5 132.2,436.9 133.2,436.3 134.2,435.7 135.2,435.1 136.2,434.5 137.2,433.9 138.2,433.3 139.2,432.8 140.2,432.2 141.2,431.6 142.2,431.1 143.2,430.5 144.2,430.0 145.2,429.5 146.2,428.9 147.2,428.4 148.2,427.9 149.2,427.4 150.2,426.9 151.2,426.4 152.2,425.9 153.2,425.4 154.2,424.9 155.2,424.4 156.2,423.9 157.2,423.5 158.2,423.0 159.2,422.6 160.2,422.1 161.2,421.6 162.2,421.2 163.2,420.7 164.2,420.3 165.2,419.9 166.2,419.4 167.2,419.0 168.2,418.6 169.2,418.2 170.2,417.8 171.2,417.3 172.2,416.9 173.2,416.5 174.2,416.1 175.2,415.7 176.2,415.3 177.2,415.0 178.2,414.6 179.2,414.2 180.2,413.8 181.2,413.4 182.2,413.1 183.2,412.7 184.2,412.4 185.2,412.0 186.2,411.7 187.2,411.3 188.2,411.0 189.2,410.6 190.2,410.3 191.2,410.0 192.2,409.6 193.2,409.3 194.2,409.0 195.2,408.7 196.2,408.4 197.2,408.0 198.2,407.7 199.2,407.4 200.2,407.1 201.2,406.8 202.2,406.5 203.2,406.2 204.2,405.9 205.2,405.6 206.2,405.3 207.2,405.0 208.2,404.7 209.2,404.4 210.2,404.2 211.2,403.9 212.2,403.6 213.2,403.3 214.2,403.0 215.2,402.8 216.2,402.5 217.2,402.2 218.2,402.0 219.2,401.7 220.2,401.4 221.2,401.2 222.2,400.9 223.2,400.7 224.2,400.4 225.2,400.2 226.2,399.9 227.2,399.7 228.2,399.4 229.2,399.2 230.2,398.9 231.2,398.7 232.2,398.4 233.2,398.2 234.2,398.0 235.2,397.7 236.2,397.5 237.2,397.2 238.2,397.0 239.2,396.8 240.2,396.5 241.2,396.3 242.2,396.1 243.2,395.8 244.2,395.6 245.2,395.4 246.2,395.2 247.2,394.9 248.2,394.7 249.2,394.5 250.2,394.3 251.2,394.1 252.2,393.8 253.2,393.6 254.2,393.4 255.2,393.2 256.2,393.0 257.2,392.8 258.2,392.6 259.2,392.4 260.2,392.2 261.2,392.0 262.2,391.8 263.2,391.6 264.2,391.4 265.2,391.2 266.2,391.0 267.2,390.8 268.2,390.6 269.2,390.4 270.2,390.2 271.2,390.0 272.2,389.8 273.2,389.7 274.2,389.5 275.2,389.3 276.2,389.1 277.2,388.9 278.2,388.7 279.2,388.6 280.2,388.4 281.2,388.2 282.2,388.0 283.2,387.8 284.2,387.7 285.2,387.5 286.2,387.3 287.2,387.2 288.2,387.0 289.2,386.8 290.2,386.7 291.2,386.5 292.2,386.3 293.2,386.2 294.2,386.0 295.2,385.8 296.2,385.7 297.2,385.5 298.2,385.3 299.2,385.2 300.2,385.0 301.2,384.9 302.2,384.7 303.2,384.6 304.2,384.4 305.2,384.2 306.2,384.1 307.2,383.9 308.2,383.8 309.2,383.6 310.2,383.5 311.2,383.3 312.2,383.2 313.2,383.0 314.2,382.9 315.2,382.8 316.2,382.6 317.2,382.5 318.2,382.3 319.2,382.2 320.2,382.0 321.2,381.9 322.2,381.8 323.2,381.6 324.2,381.5 325.2,381.3 326.2,381.2 327.2,381.1 328.2,380.9 329.2,380.8 330.2,380.7 331.2,380.5 332.2,380.4 333.2,380.3 334.2,380.1 335.2,380.0 336.2,379.9 337.2,379.8 338.2,379.6 339.2,379.5 340.2,379.4 341.2,379.2 342.2,379.1 343.2,379.0 344.2,378.9 345.2,378.7 346.2,378.6 347.2,378.5 348.2,378.4 349.2,378.3 350.2,378.1 351.2,378.0 352.2,377.9 353.2,377.8 354.2,377.7 355.2,377.5 356.2,377.4 357.2,377.3 358.2,377.2 359.2,377.1 360.2,377.0 361.2,376.9 362.2,376.7 363.2,376.6 364.2,376.5 365.2,376.4 366.2,376.3 367.2,376.2 368.2,376.1 369.2,376.0 370.2,375.9 371.2,375.8 372.2,375.6 373.2,375.5 374.2,375.4 375.2,375.3 376.2,375.2 377.2,375.1 378.2,375.0 379.2,374.9 380.2,374.8 381.2,374.7 382.2,374.6 383.2,374.5 384.2,374.4 385.2,374.3 386.2,374.2 387.2,374.1 388.2,374.0 389.2,373.9 390.2,373.8 391.2,373.7 392.2,373.6 393.2,373.5 394.2,373.4 395.2,373.3 396.2,373.2 397.2,373.1 398.2,373.0 399.2,372.9 400.2,372.8 401.2,372.7 402.2,372.6 403.2,372.5 404.2,372.5 405.2,372.4 406.2,372.3 407.2,372.2 408.2,372.1 409.2,372.0 410.2,371.9 411.2,371.8 412.2,371.7 413.2,371.6 414.2,371.5 415.2,371.5 416.2,371.4 417.2,371.3 418.2,371.2 419.2,371.1 420.2,371.0 421.2,370.9 422.2,370.9 423.2,370.8 424.2,370.7 425.2,370.6 426.2,370.5 427.2,370.4 428.2,370.3 429.2,370.3 430.2,370.2 431.2,370.1 432.2,370.0 433.2,369.9 434.2,369.9 435.2,369.8 436.2,369.7 437.2,369.6 438.2,369.5 439.2,369.5 440.2,369.4 441.2,369.3 442.2,369.2 443.2,369.1 444.2,369.1 445.2,369.0 446.2,368.9 447.2,368.8 448.2,368.8 449.2,368.7 450.2,368.6 451.2,368.5 452.2,368.4 453.2,368.4 454.2,368.3 455.2,368.2 456.2,368.2 457.2,368.1 458.2,368.0 459.2,367.9 460.2,367.9 461.2,367.8 462.2,367.7 463.2,367.6 464.2,367.6 465.2,367.5 466.2,367.4 467.2,367.4 468.2,367.3 469.2,367.2 470.2,367.2 471.2,367.1 472.2,367.0 473.2,367.0 474.2,366.9 475.2,366.8 476.2,366.7 477.2,366.7 478.2,366.6 479.2,366.5 480.2,366.5 481.2,366.4 482.2,366.3 483.2,366.3 484.2,366.2 485.2,366.1 486.2,366.1 487.2,366.0 488.2,366.0 489.2,365.9 490.2,365.8 491.2,365.8 492.2,365.7 493.2,365.6 494.2,365.6 495.2,365.5 496.2,365.4 497.2,365.4 498.2,365.3 499.2,365.3 500.2,365.2 501.2,365.1 502.2,365.1 503.2,365.0 504.2,365.0 505.2,364.9 506.2,364.8 507.2,364.8 508.2,364.7 509.2,364.7 510.2,364.6 511.2,364.5 512.2,364.5 513.2,364.4 514.2,364.4 515.2,364.3 516.2,364.2 517.2,364.2 518.2,364.1 519.2,364.1 520.2,364.0 521.2,364.0 522.2,363.9 523.2,363.8 524.2,363.8 525.2,363.7 526.2,363.7 527.2,363.6 528.2,363.6 529.2,363.5 530.2,363.5 531.2,363.4 532.2,363.3 533.2,363.3 534.2,363.2 535.2,363.2 536.2,363.1 537.2,363.1 538.2,363.0 539.2,363.0 540.2,362.9 541.2,362.9 542.2,362.8 543.2,362.7 544.2,362.7 545.2,362.6 546.2,362.6 547.2,362.5 548.2,362.5 549.2,362.4 550.2,362.4 551.2,362.3 552.2,362.3 553.2,362.2 554.2,362.2 555.2,362.1 556.2,362.1 557.2,362.0 558.2,362.0 559.2,361.9 560.2,361.9 561.2,361.8 562.2,361.8 563.2,361.7 564.2,361.7 565.2,361.6 566.2,361.6 567.2,361.5 568.2,361.5 569.2,361.4 570.2,361.4 571.2,361.3 572.2,361.3 573.2,361.3 574.2,361.2 575.2,361.2 576.2,361.1 577.2,361.1 578.2,361.0 579.2,361.0 580.2,360.9 581.2,360.9 582.2,360.8 583.2,360.8 584.2,360.7 585.2,360.7 586.2,360.6 587.2,360.6 588.2,360.6 589.2,360.5 590.2,360.5 591.2,360.4 592.2,360.4 593.2,360.3 594.2,360.3 595.2,360.2 596.2,360.2 597.2,360.2 598.2,360.1 599.2,360.1 600.2,360.0 601.2,360.0 602.2,359.9 603.2,359.9 604.2,359.9 605.2,359.8 606.2,359.8 607.2,359.7 608.2,359.7 609.2,359.6 610.2,359.6 611.2,359.6 612.2,359.5 613.2,359.5 614.2,359.4 615.2,359.4 616.2,359.3 617.2,359.3 618.2,359.3 619.2,359.2 620.2,359.2 621.2,359.1 622.2,359.1 623.2,359.1 624.2,359.0 625.2,359.0 626.2,358.9 627.2,358.9 628.2,358.9 629.0,358.8" fill="none" stroke="#2a2a2a" stroke-width="1"/>
<line x1="605.0" y1="140.8" x2="605.0" y2="157.3" stroke="#444" stroke-width="1.1"/>
<line x1="600.7" y1="140.8" x2="609.3" y2="140.8" stroke="#444" stroke-width="1.1"/>
<line x1="600.7" y1="157.3" x2="609.3" y2="157.3" stroke="#444" stroke-width="1.1"/>
<line x1="396.3" y1="362.7" x2="396.3" y2="377.7" stroke="#444" stroke-width="1.1"/>
<line x1="392.3" y1="362.7" x2="400.3" y2="362.7" stroke="#444" stroke-width="1.1"/>
<line x1="392.3" y1="377.7" x2="400.3" y2="377.7" stroke="#444" stroke-width="1.1"/>
<line x1="604.3" y1="219.0" x2="604.3" y2="235.5" stroke="#444" stroke-width="1.1"/>
<line x1="370.7" y1="264.0" x2="370.7" y2="280.5" stroke="#444" stroke-width="1.1"/>
<line x1="262.9" y1="274.0" x2="262.9" y2="290.5" stroke="#444" stroke-width="1.1"/>
<line x1="152.0" y1="299.0" x2="152.0" y2="315.0" stroke="#444" stroke-width="1.1"/>
<line x1="112.0" y1="338.0" x2="112.0" y2="354.0" stroke="#444" stroke-width="1.1"/>
<line x1="656.0" y1="317.3" x2="656.0" y2="334.0" stroke="#444" stroke-width="1.1"/>
<line x1="419.0" y1="331.0" x2="419.0" y2="347.0" stroke="#444" stroke-width="1.1"/>
<line x1="303.3" y1="352.0" x2="303.3" y2="367.0" stroke="#444" stroke-width="1.1"/>
<line x1="624.0" y1="271.0" x2="624.0" y2="286.5" stroke="#444" stroke-width="1.1"/>
<line x1="622.0" y1="271.0" x2="626.0" y2="271.0" stroke="#444" stroke-width="1.1"/>
<line x1="622.0" y1="286.5" x2="626.0" y2="286.5" stroke="#444" stroke-width="1.1"/>
<line x1="388.3" y1="303.0" x2="388.3" y2="320.0" stroke="#444" stroke-width="1.1"/>
<line x1="278.3" y1="338.0" x2="278.3" y2="355.0" stroke="#444" stroke-width="1.1"/>
<line x1="175.0" y1="359.0" x2="175.0" y2="377.0" stroke="#444" stroke-width="1.1"/>
<line x1="121.0" y1="382.0" x2="121.0" y2="400.0" stroke="#444" stroke-width="1.1"/>
<line x1="185.0" y1="361.0" x2="185.0" y2="378.0" stroke="#444" stroke-width="1.1"/>
<line x1="130.6" y1="391.0" x2="130.6" y2="407.0" stroke="#444" stroke-width="1.1"/>
<line x1="100.0" y1="422.3" x2="100.0" y2="437.0" stroke="#444" stroke-width="1.1"/>
<line x1="96.5" y1="422.3" x2="103.5" y2="422.3" stroke="#444" stroke-width="1.1"/>
<line x1="96.5" y1="437.0" x2="103.5" y2="437.0" stroke="#444" stroke-width="1.1"/>
<circle cx="632.0" cy="361.7" r="6.0" fill="#000"/>
<circle cx="396.3" cy="370.7" r="6.0" fill="#000"/>
<circle cx="283.0" cy="385.3" r="6.0" fill="#000"/>
<circle cx="178.0" cy="417.4" r="6.0" fill="#000"/>
<circle cx="127.4" cy="438.7" r="6.0" fill="#000"/>
<circle cx="99.0" cy="457.2" r="6.0" fill="#000"/>
<circle cx="96.4" cy="474.2" r="6.0" fill="#000"/>
<circle cx="90.0" cy="475.0" r="6.0" fill="#000"/>
<circle cx="84.5" cy="475.0" r="6.0" fill="#000"/>
<rect x="599.7" y="143.7" width="11.0" height="11.0" fill="#000"/>
<rect x="365.0" y="166.2" width="11.0" height="11.0" fill="#000"/>
<rect x="245.5" y="166.3" width="11.0" height="11.0" fill="#000"/>
<rect x="146.5" y="254.8" width="11.0" height="11.0" fill="#000"/>
<rect x="106.5" y="336.5" width="11.0" height="11.0" fill="#000"/>
<rect x="87.9" y="408.7" width="11.0" height="11.0" fill="#000"/>
<rect x="83.7" y="439.6" width="11.0" height="11.0" fill="#000"/>
<rect x="79.5" y="469.7" width="11.0" height="11.0" fill="#000"/>
<rect x="77.0" y="469.7" width="11.0" height="11.0" fill="#000"/>
<polygon points="604.3,219.0 597.2,231.0 611.4,231.0" fill="#000"/>
<polygon points="370.7,264.0 363.6,276.0 377.8,276.0" fill="#000"/>
<polygon points="262.9,273.5 255.8,285.5 270.0,285.5" fill="#000"/>
<polygon points="152.0,298.5 144.9,310.5 159.1,310.5" fill="#000"/>
<polygon points="112.0,339.0 104.9,351.0 119.1,351.0" fill="#000"/>
<polygon points="95.8,402.0 88.7,414.0 102.9,414.0" fill="#000"/>
<polygon points="92.0,450.0 84.9,462.0 99.1,462.0" fill="#000"/>
<polygon points="86.0,467.8 78.9,479.8 93.1,479.8" fill="#000"/>
<polygon points="82.0,467.8 74.9,479.8 89.1,479.8" fill="#000"/>
<polygon points="656.0,334.0 648.9,322.0 663.1,322.0" fill="#000"/>
<polygon points="419.0,348.0 411.9,336.0 426.1,336.0" fill="#000"/>
<polygon points="303.3,368.7 296.2,356.7 310.4,356.7" fill="#000"/>
<polygon points="185.0,377.0 177.9,365.0 192.1,365.0" fill="#000"/>
<polygon points="130.6,407.0 123.5,395.0 137.7,395.0" fill="#000"/>
<polygon points="100.0,436.3 92.9,424.3 107.1,424.3" fill="#000"/>
<polygon points="94.3,473.7 87.2,461.7 101.4,461.7" fill="#000"/>
<polygon points="88.0,481.8 80.9,469.8 95.1,469.8" fill="#000"/>
<polygon points="83.0,481.8 75.9,469.8 90.1,469.8" fill="#000"/>
<polygon points="616.3,279.0 628.3,271.9 628.3,286.1" fill="#000"/>
<polygon points="381.3,311.7 393.3,304.6 393.3,318.8" fill="#000"/>
<polygon points="271.3,346.7 283.3,339.6 283.3,353.8" fill="#000"/>
<polygon points="167.3,368.0 179.3,360.9 179.3,375.1" fill="#000"/>
<polygon points="113.4,391.6 125.4,384.5 125.4,398.7" fill="#000"/>
<polygon points="91.2,438.6 103.2,431.5 103.2,445.7" fill="#000"/>
<polygon points="84.3,456.5 96.3,449.4 96.3,463.6" fill="#000"/>
<polygon points="79.0,475.2 91.0,468.1 91.0,482.3" fill="#000"/>
<polygon points="75.0,475.2 87.0,468.1 87.0,482.3" fill="#000"/>
</g>
<rect x="77.8" y="40" width="1.6" height="439.7" fill="#000"/>
<rect x="78" y="478" width="594.6" height="1.7" fill="#000"/>
<rect x="78" y="426.1" width="6.0" height="1.7" fill="#000"/>
<rect x="78" y="377.3" width="10.0" height="1.7" fill="#000"/>
<rect x="78" y="327.6" width="6.0" height="1.7" fill="#000"/>
<rect x="78" y="277.8" width="10.0" height="1.7" fill="#000"/>
<rect x="78" y="228.1" width="6.0" height="1.7" fill="#000"/>
<rect x="78" y="178.3" width="10.0" height="1.7" fill="#000"/>
<rect x="78" y="128.6" width="6.0" height="1.7" fill="#000"/>
<rect x="78" y="78.9" width="10.0" height="1.7" fill="#000"/>
<rect x="83.4" y="469.5" width="1.7" height="9.5" fill="#000"/>
<rect x="143.4" y="473.6" width="1.7" height="5.4" fill="#000"/>
<rect x="203.5" y="469.5" width="1.7" height="9.5" fill="#000"/>
<rect x="263.5" y="473.6" width="1.7" height="5.4" fill="#000"/>
<rect x="323.6" y="469.5" width="1.7" height="9.5" fill="#000"/>
<rect x="383.6" y="473.6" width="1.7" height="5.4" fill="#000"/>
<rect x="443.7" y="469.5" width="1.7" height="9.5" fill="#000"/>
<rect x="503.7" y="473.6" width="1.7" height="5.4" fill="#000"/>
<rect x="563.8" y="469.5" width="1.7" height="9.5" fill="#000"/>
<rect x="623.8" y="473.6" width="1.7" height="5.4" fill="#000"/>
<circle cx="503.8" cy="7.6" r="6" fill="#000"/>
<rect x="498.3" y="26.7" width="11" height="11" fill="#000"/>
<polygon points="503.8,48.8 496.7,60.8 510.9,60.8" fill="#000"/>
<polygon points="503.8,89.3 496.7,77.3 510.9,77.3" fill="#000"/>
<polygon points="496.3,104.7 508.3,97.6 508.3,111.8" fill="#000"/>
</svg>
<div class="t yl" style="top:68.1px">200</div>
<div class="t yl" style="top:167.6px">150</div>
<div class="t yl" style="top:267.1px">100</div>
<div class="t yl" style="top:366.6px">50</div>
<div class="t yl" style="top:464.7px">0</div>
<div class="t xl" style="left:54.3px;top:487.3px">0.0</div>
<div class="t xl" style="left:173.6px;top:487.3px">0.1</div>
<div class="t xl" style="left:293.7px;top:487.3px">0.2</div>
<div class="t xl" style="left:413.8px;top:487.3px">0.3</div>
<div class="t xl" style="left:533.9px;top:487.3px">0.4</div>
<div class="t lg" style="top:-1.95px">Mont</div>
<div class="t lg" style="top:22.15px"><i>P. p</i></div>
<div class="t lg" style="top:46.25px">Mont-<i>P. p</i></div>
<div class="t lg" style="top:70.35px">Mont-HA</div>
<div class="t lg" style="top:94.45px">Mont-HA-<i>P. p</i></div>
<div class="t ttl" id="xt" style="font-size:30.4px;left:184.3px;top:516.8px;transform-origin:0 84%;transform:scaleY(1.035)">Equilibrium concentration (mmo/L)</div>
<div class="t ttl" id="yt" style="font-size:31px;left:0;top:0;transform-origin:0 0;transform:translate(-3.0px,405.5px) rotate(-90deg)">Cd sorbed (mmol/kg)</div>
</body></html>
